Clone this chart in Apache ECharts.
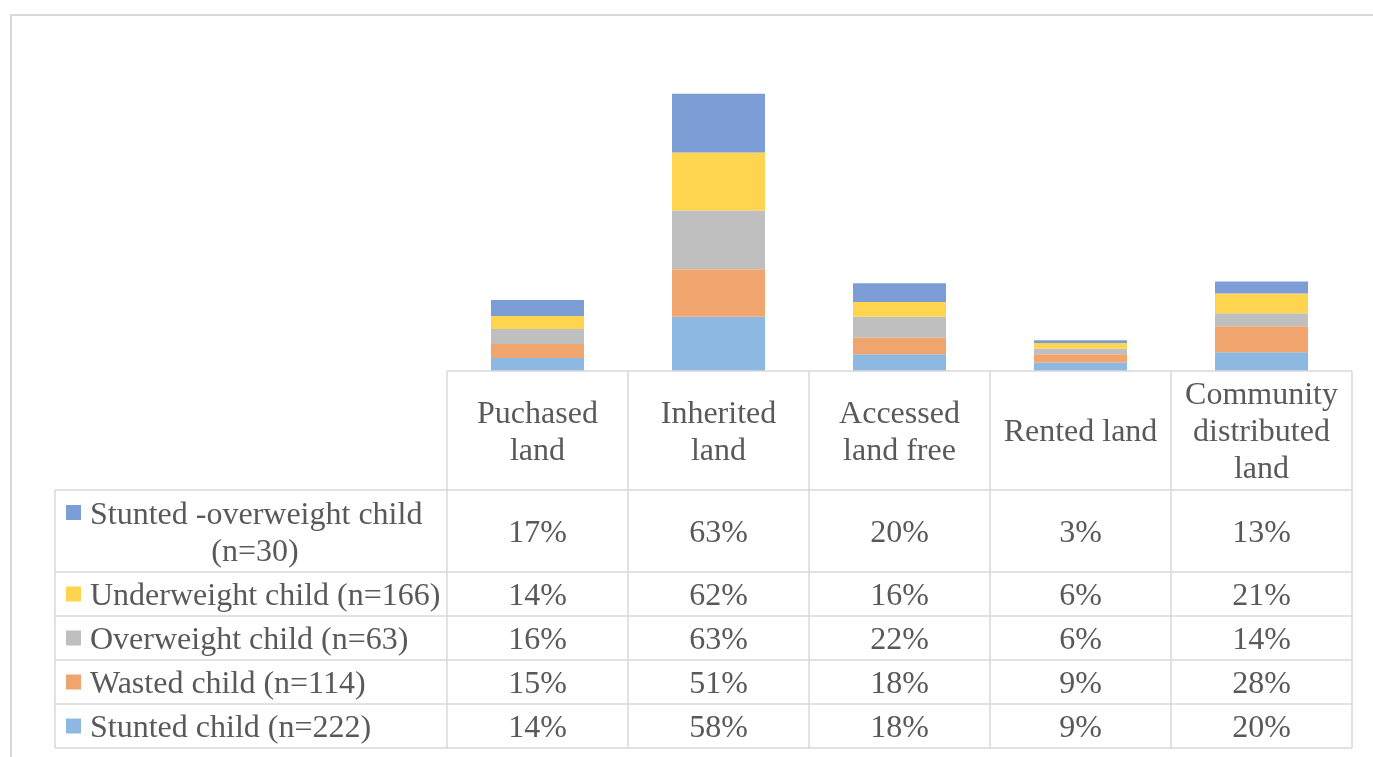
<!DOCTYPE html>
<html>
<head>
<meta charset="utf-8">
<script src="https://cdn.jsdelivr.net/npm/echarts@6/dist/echarts.min.js"></script>
<style>
html,body{margin:0;padding:0;background:#fff;}
#chart{width:1373px;height:757px;}
</style>
</head>
<body>
<div id="chart"></div>
<script>
// ---- data ----
const categories = ['Puchased\nland', 'Inherited\nland', 'Accessed\nland free', 'Rented land', 'Community\ndistributed\nland'];
const seriesNames = ['Stunted child (n=222)', 'Wasted child (n=114)', 'Overweight child (n=63)', 'Underweight child (n=166)', 'Stunted -overweight child (n=30)'];
const stuntedChild = [14, 58, 18, 9, 20];
const wastedChild = [15, 51, 18, 9, 28];
const overweightChild = [16, 63, 22, 6, 14];
const underweightChild = [14, 62, 16, 6, 21];
const stuntedOverweightChild = [17, 63, 20, 3, 13];
const seriesValues = [stuntedChild, wastedChild, overweightChild, underweightChild, stuntedOverweightChild];
const colors = ['#8CB8E2', '#F0A46E', '#BFBFBF', '#FFD44F', '#7C9DD6'];

// ---- layout ----
const W = 1373, H = 757;
const gridL = 447, gridR = 1352, gridTop = 91, base = 371;
const legendL = 55;
const rowEdges = [490, 572, 616, 660, 704, 748];
const lineColor = '#D9D9D9';
const textColor = '#595959';
const font = 'Liberation Serif, Times New Roman, serif';
const fs = 32;
const tOff = 3;

const chart = echarts.init(document.getElementById('chart'), null, {renderer: 'canvas'});

const nCat = categories.length;
const colW = (gridR - gridL) / nCat;

const graphics = [];
function line(x1, y1, x2, y2, w) {
  graphics.push({type: 'line', shape: {x1, y1, x2, y2}, style: {stroke: lineColor, lineWidth: w || 1.5}, silent: true, z: 10});
}
function text(x, y, t, align) {
  graphics.push({type: 'text', x, y: y + tOff, style: {text: t, fill: textColor, font: fs + 'px ' + font, textAlign: align || 'center', textVerticalAlign: 'middle'}, silent: true, z: 11});
}
// outer chart border
line(10, 15, W, 15, 2);
line(11, 15, 11, H, 2);
// header top line
line(gridL, base, gridR, base);
// row lines
rowEdges.forEach(y => line(legendL, y, gridR, y));
// column lines
for (let i = 0; i <= nCat; i++) line(gridL + i * colW, base, gridL + i * colW, rowEdges[rowEdges.length - 1]);
line(legendL, rowEdges[0], legendL, rowEdges[rowEdges.length - 1]);

// table rows: top row is last series
const nRows = seriesNames.length;
for (let r = 0; r < nRows; r++) {
  const si = nRows - 1 - r;
  const y0 = rowEdges[r], y1 = rowEdges[r + 1];
  const cy = (y0 + y1) / 2;
  const name = seriesNames[si];
  const twoLine = (y1 - y0) > 60;
  let firstY = cy;
  if (twoLine) {
    const idx = name.lastIndexOf(' (');
    const l1 = name.slice(0, idx), l2 = name.slice(idx + 1);
    firstY = cy - 18.5;
    text(90, firstY, l1, 'left');
    text((legendL + gridL) / 2 + 4, cy + 18.5, l2, 'center');
  } else {
    text(90, cy, name, 'left');
  }
  graphics.push({type: 'rect', shape: {x: 66, y: firstY - 7.5, width: 15, height: 15}, style: {fill: colors[si]}, silent: true, z: 11});
  for (let c = 0; c < nCat; c++) {
    text(gridL + (c + 0.5) * colW, cy, seriesValues[si][c] + '%', 'center');
  }
}

const series = seriesNames.map((n, i) => ({
  name: n,
  type: 'bar',
  stack: 'total',
  data: seriesValues[i],
  barWidth: 93,
  itemStyle: {color: colors[i]},
  emphasis: {disabled: true}
}));

chart.setOption({
  animation: false,
  backgroundColor: '#fff',
  grid: {left: gridL, right: W - gridR, top: gridTop, bottom: H - base, containLabel: false},
  xAxis: {
    type: 'category',
    data: categories,
    axisLine: {show: false},
    axisTick: {show: false},
    axisLabel: {
      interval: 0,
      margin: 62,
      verticalAlign: 'middle',
      color: textColor,
      fontFamily: font,
      fontSize: fs,
      lineHeight: 37,
      align: 'center'
    }
  },
  yAxis: {
    type: 'value',
    min: 0,
    max: 300,
    show: false,
    splitLine: {show: false}
  },
  series: series,
  graphic: graphics
});
</script>
</body>
</html>
